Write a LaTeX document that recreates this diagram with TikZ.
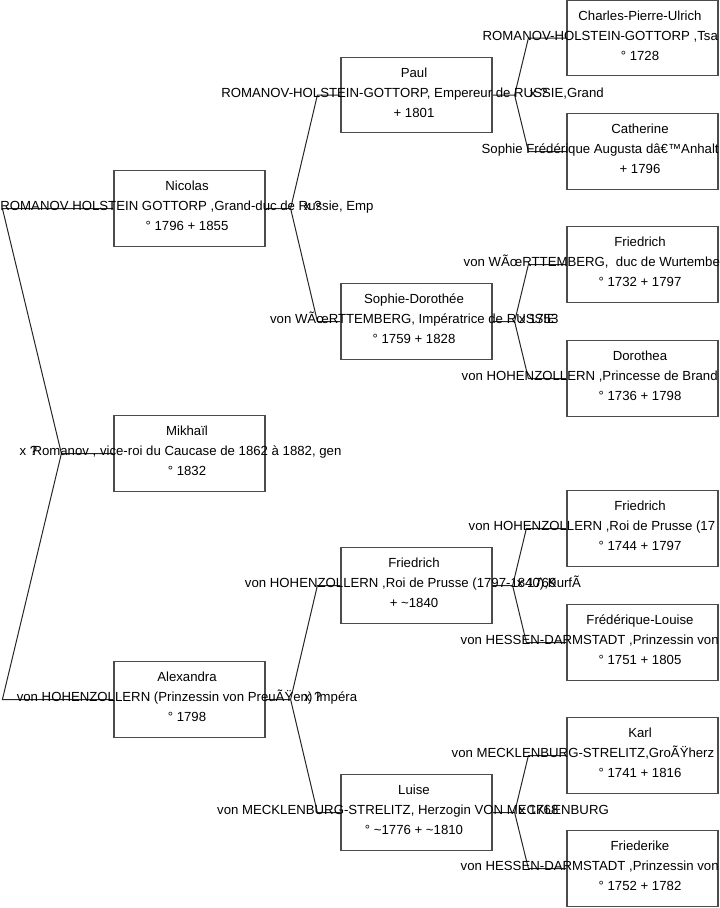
\documentclass[tikz,border=0pt]{standalone}
\usepackage{fontspec}
\setmainfont{Liberation Sans}
\usetikzlibrary{calc}
\begin{document}
\begin{tikzpicture}[x=0.75pt,y=-0.75pt,
  box/.style={draw=black!70, line width=0.9pt, fill=white, rectangle, minimum width=113.25pt, minimum height=56.6pt, inner sep=0pt},
  txt/.style={inner sep=0pt, anchor=base, font=\fontsize{9.9pt}{12pt}\selectfont, text=black},
  txtw/.style={txt, anchor=base west},
  link/.style={draw=black!85, line width=0.75pt}
]
\useasboundingbox (0,0) rectangle (719,908);
% boxes
\node[box] (nic) at (189.5,208.5) {};
\node[box] (mik) at (189.5,453.5) {};
\node[box] (ale) at (189.5,699.5) {};
\node[box] (pau) at (416.5,95) {};
\node[box] (sop) at (416.5,321.5) {};
\node[box] (fri) at (416.5,585.5) {};
\node[box] (lui) at (416.5,812.5) {};
\node[box] (cpu) at (642.5,38) {};
\node[box] (cat) at (642.5,151.5) {};
\node[box] (fwu) at (642.5,264.5) {};
\node[box] (dor) at (642.5,378.5) {};
\node[box] (fho) at (642.5,528.5) {};
\node[box] (frl) at (642.5,642.5) {};
\node[box] (kar) at (642.5,755.5) {};
\node[box] (fre) at (642.5,868.5) {};
% connectors
\draw[link] (mik.west) -- ++(-52,0) coordinate (fk0) -- ($(nic.west)+(-111,0)$) -- (nic.west);
\draw[link] (fk0) -- ($(ale.west)+(-111,0)$) -- (ale.west);
\draw[link] (nic.east) -- ++(25,0) coordinate (fk1) -- ($(pau.west)+(-23,0)$) -- (pau.west);
\draw[link] (fk1) -- ($(sop.west)+(-23,0)$) -- (sop.west);
\draw[link] (ale.east) -- ++(25,0) coordinate (fk4) -- ($(fri.west)+(-23,0)$) -- (fri.west);
\draw[link] (fk4) -- ($(lui.west)+(-23,0)$) -- (lui.west);
\draw[link] (pau.east) -- ++(22,0) coordinate (fk2) -- ($(cpu.west)+(-38,0)$) -- (cpu.west);
\draw[link] (fk2) -- ($(cat.west)+(-38,0)$) -- (cat.west);
\draw[link] (sop.east) -- ++(22,0) coordinate (fk3) -- ($(fwu.west)+(-38,0)$) -- (fwu.west);
\draw[link] (fk3) -- ($(dor.west)+(-38,0)$) -- (dor.west);
\draw[link] (fri.east) -- ++(20,0) coordinate (fk5) -- ($(fho.west)+(-40,0)$) -- (fho.west);
\draw[link] (fk5) -- ($(frl.west)+(-40,0)$) -- (frl.west);
\draw[link] (lui.east) -- ++(22,0) coordinate (fk6) -- ($(kar.west)+(-38,0)$) -- (kar.west);
\draw[link] (fk6) -- ($(fre.west)+(-38,0)$) -- (fre.west);
% marriage labels
\node[txt] (m0) at ($(fk0)+(-33,2)$) {x ?};
\node[txt] (m1) at ($(fk1)+(22,2)$) {x ?};
\node[txt] (m4) at ($(fk4)+(22,2)$) {x ?};
\node[txt] (m2) at ($(fk2)+(24,2)$) {x ?};
\node[txt] (m3) at ($(fk3)+(24,2)$) {x 1753};
\node[txt] (m5) at ($(fk5)+(24,2)$) {x 1769};
\node[txt] (m6) at ($(fk6)+(24,2)$) {x 1768};
% column 0 texts
\node[txt] (nicA) at ($(nic.center)+(-2.5,-18)$) {Nicolas};
\node[txt] (nicB) at ($(nic.center)+(-2.5,2)$) {ROMANOV HOLSTEIN GOTTORP ,Grand-duc de Russie, Emp};
\node[txt] (nicC) at ($(nic.center)+(-2.5,22)$) {° 1796 + 1855};
\node[txt] (mikA) at ($(mik.center)+(-2.5,-18)$) {Mikhaïl};
\node[txt] (mikB) at ($(mik.center)+(-2.5,2)$) {Romanov , vice-roi du Caucase de 1862 à 1882, gen};
\node[txt] (mikC) at ($(mik.center)+(-2.5,22)$) {° 1832};
\node[txt] (aleA) at ($(ale.center)+(-2.5,-18)$) {Alexandra};
\node[txt] (aleB) at ($(ale.center)+(-2.5,2)$) {von HOHENZOLLERN (Prinzessin von PreuÃŸen) Impéra};
\node[txt] (aleC) at ($(ale.center)+(-2.5,22)$) {° 1798};
% column 1 texts
\node[txt] (pauA) at ($(pau.center)+(-2.5,-18)$) {Paul};
\node[txt] (pauB) at ($(pau.center)+(-4,2)$) {ROMANOV-HOLSTEIN-GOTTORP, Empereur de RUSSIE,Grand};
\node[txt] (pauC) at ($(pau.center)+(-2.5,22)$) {+ 1801};
\node[txt] (sopA) at ($(sop.center)+(-2.5,-18)$) {Sophie-Dorothée};
\node[txt] (sopB) at ($(sop.center)+(-3.5,2)$) {von WÃœRTTEMBERG, Impératrice de RUSSIE};
\node[txt] (sopC) at ($(sop.center)+(-2.5,22)$) {° 1759 + 1828};
\node[txt] (friA) at ($(fri.center)+(-2.5,-18)$) {Friedrich};
\node[txt] (friB) at ($(fri.center)+(-3.5,2)$) {von HOHENZOLLERN ,Roi de Prusse (1797-1840),KurfÃ};
\node[txt] (friC) at ($(fri.center)+(-2.5,22)$) {+ \textasciitilde1840};
\node[txt] (luiA) at ($(lui.center)+(-2.5,-18)$) {Luise};
\node[txt] (luiB) at ($(lui.center)+(-3.5,2)$) {von MECKLENBURG-STRELITZ, Herzogin VON MECKLENBURG};
\node[txt] (luiC) at ($(lui.center)+(-2.5,22)$) {° \textasciitilde1776 + \textasciitilde1810};
% column 2 texts
\node[txt] (cpuA) at ($(cpu.center)+(-2.5,-18)$) {Charles-Pierre-Ulrich};
\node[txtw] (cpuB) at ($(cpu.west)+(-84,2)$) {ROMANOV-HOLSTEIN-GOTTORP ,Tsa};
\node[txt] (cpuC) at ($(cpu.center)+(-2.5,22)$) {° 1728};
\node[txt] (catA) at ($(cat.center)+(-2.5,-18)$) {Catherine};
\node[txtw] (catB) at ($(cat.west)+(-85,2)$) {Sophie Frédérique Augusta dâ€™Anhalt};
\node[txt] (catC) at ($(cat.center)+(-2.5,22)$) {+ 1796};
\node[txt] (fwuA) at ($(fwu.center)+(-2.5,-18)$) {Friedrich};
\node[txtw] (fwuB) at ($(fwu.west)+(-103,2)$) {von WÃœRTTEMBERG,\ \ duc de Wurtembe};
\node[txt] (fwuC) at ($(fwu.center)+(-2.5,22)$) {° 1732 + 1797};
\node[txt] (dorA) at ($(dor.center)+(-2.5,-18)$) {Dorothea};
\node[txtw] (dorB) at ($(dor.west)+(-105,2)$) {von HOHENZOLLERN ,Princesse de Brand};
\node[txt] (dorC) at ($(dor.center)+(-2.5,22)$) {° 1736 + 1798};
\node[txt] (fhoA) at ($(fho.center)+(-2.5,-18)$) {Friedrich};
\node[txtw] (fhoB) at ($(fho.west)+(-98,2)$) {von HOHENZOLLERN ,Roi de Prusse (17};
\node[txt] (fhoC) at ($(fho.center)+(-2.5,22)$) {° 1744 + 1797};
\node[txt] (frlA) at ($(frl.center)+(-2.5,-18)$) {Frédérique-Louise};
\node[txtw] (frlB) at ($(frl.west)+(-106,2)$) {von HESSEN-DARMSTADT ,Prinzessin von};
\node[txt] (frlC) at ($(frl.center)+(-2.5,22)$) {° 1751 + 1805};
\node[txt] (karA) at ($(kar.center)+(-2.5,-18)$) {Karl};
\node[txtw] (karB) at ($(kar.west)+(-115,2)$) {von MECKLENBURG-STRELITZ,GroÃŸherz};
\node[txt] (karC) at ($(kar.center)+(-2.5,22)$) {° 1741 + 1816};
\node[txt] (freA) at ($(fre.center)+(-2.5,-18)$) {Friederike};
\node[txtw] (freB) at ($(fre.west)+(-106,2)$) {von HESSEN-DARMSTADT ,Prinzessin von};
\node[txt] (freC) at ($(fre.center)+(-2.5,22)$) {° 1752 + 1782};
\end{tikzpicture}
\end{document}
